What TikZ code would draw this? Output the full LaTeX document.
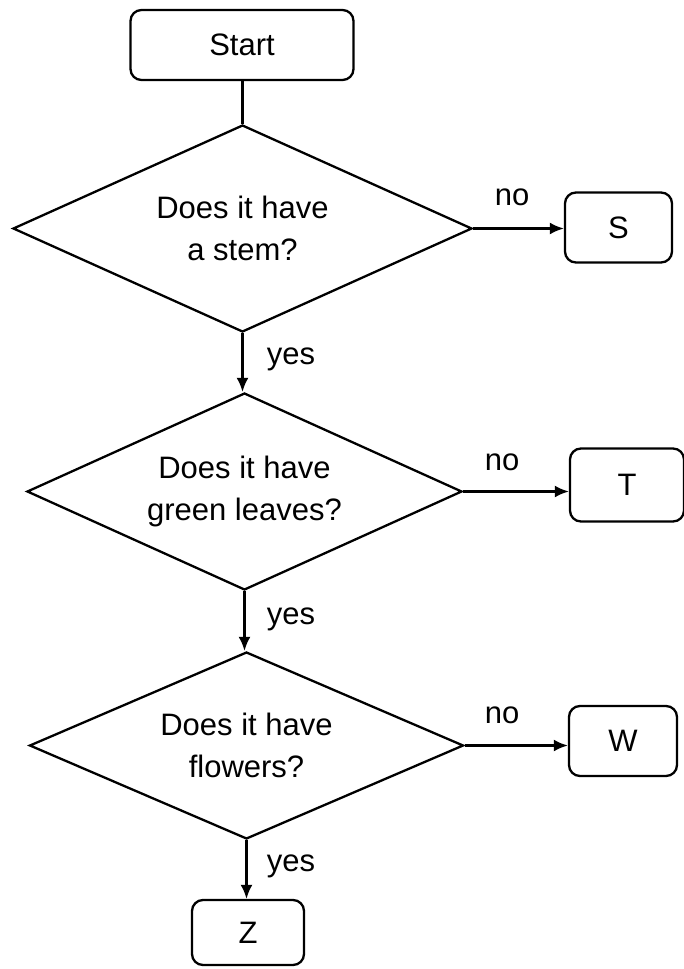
\documentclass[tikz,border=0pt]{standalone}
\usepackage{fontspec}
\setmainfont{Liberation Sans}
\usetikzlibrary{shapes.geometric,arrows.meta}

\begin{document}
\begin{tikzpicture}[x=1pt,y=-1pt,
  every node/.style={font=\fontsize{31}{42}\selectfont, text=black},
  box/.style={draw, line width=2.3pt, rounded corners=11pt, inner sep=0pt},
  question/.style={draw, line width=2.3pt, shape=diamond, aspect=2.2, inner sep=0pt, align=center},
  flow/.style={line width=2.3pt, -{Latex[length=14pt,width=12pt]}},
  lbl/.style={inner sep=0pt}
]
  % page area
  \fill[white] (0,0) rectangle (683,969);
  \useasboundingbox (0,0) rectangle (683,969);

  % terminal and outcome boxes
  \node[box, minimum width=223pt, minimum height=70pt] (start) at (242,45) {Start};
  \node[box, minimum width=107pt, minimum height=70pt] (s) at (618.5,227.5) {S};
  \node[box, minimum width=114pt, minimum height=73pt] (t) at (627,485) {T};
  \node[box, minimum width=108pt, minimum height=70pt] (w) at (623,741) {W};
  \node[box, minimum width=112pt, minimum height=65pt] (z) at (248,932.5) {Z};

  % decision diamonds
  \node[question, minimum width=459pt, minimum height=207pt] (d1) at (242.5,228.5)
    {Does it have\\a stem?};
  \node[question, minimum width=435pt, minimum height=197pt] (d2) at (244.5,491.5)
    {Does it have\\green leaves?};
  \node[question, minimum width=434pt, minimum height=187pt] (d3) at (246.5,745.5)
    {Does it have\\flowers?};

  % connectors
  \draw[line width=2.3pt] (start.south -| d1.north) -- (d1.north);
  \draw[flow] (d1.east) -- (d1.east -| s.west);
  \draw[flow] (d1.south) -- (d1.south |- d2.north);
  \draw[flow] (d2.east) -- (d2.east -| t.west);
  \draw[flow] (d2.south) -- (d2.south |- d3.north);
  \draw[flow] (d3.east) -- (d3.east -| w.west);
  \draw[flow] (d3.south) -- (d3.south |- z.north);

  % branch labels
  \node[lbl] (no1) at (512,197) {no};
  \node[lbl] (yes1) at (291,359) {yes};
  \node[lbl] (no2) at (502,462) {no};
  \node[lbl] (yes2) at (291,619) {yes};
  \node[lbl] (no3) at (502,715) {no};
  \node[lbl] (yes3) at (291,866) {yes};
\end{tikzpicture}
\end{document}
